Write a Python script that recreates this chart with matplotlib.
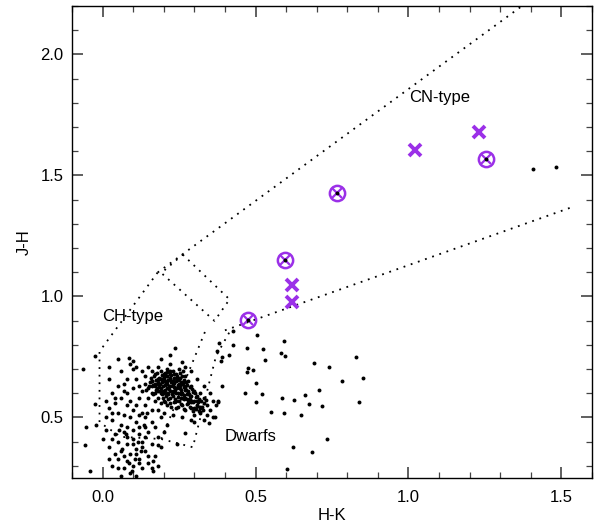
import numpy as np
import matplotlib
matplotlib.use('Agg')
import matplotlib.pyplot as plt
from matplotlib.ticker import MultipleLocator

plt.rcParams['font.family'] = ['Liberation Sans', 'DejaVu Sans']

# === Data ===
# dense clump of field stars
clump_x = [0.20, 0.21, 0.22, 0.23, 0.19, 0.24, 0.25, 0.22, 0.21, 0.18, 0.26, 0.27, 0.23, 0.20, 0.24, 0.19, 0.17, 0.25, 0.28, 0.22,
           0.21, 0.23, 0.26, 0.18, 0.20, 0.27, 0.29, 0.24, 0.22, 0.25, 0.30, 0.28, 0.26, 0.31, 0.29, 0.27, 0.32, 0.30, 0.33, 0.31,
           0.16, 0.15, 0.17, 0.19, 0.21, 0.23, 0.16, 0.14, 0.18, 0.20, 0.22, 0.24, 0.21, 0.19, 0.17, 0.15, 0.13, 0.12, 0.14, 0.16,
           0.25, 0.27, 0.28, 0.29, 0.30, 0.32, 0.33, 0.34, 0.35, 0.34,
           0.205, 0.215, 0.225, 0.235, 0.245, 0.255, 0.265, 0.195, 0.185, 0.175,
           0.205, 0.215, 0.235, 0.245, 0.255, 0.265, 0.275, 0.285, 0.295, 0.275,
           0.225, 0.235, 0.245, 0.255, 0.265, 0.275, 0.285, 0.295, 0.305, 0.315,
           0.185, 0.195, 0.205, 0.175, 0.165, 0.155, 0.165, 0.195, 0.215, 0.235,
           0.255, 0.285, 0.305, 0.325, 0.315, 0.295, 0.245, 0.225, 0.205, 0.265,
           0.21, 0.23, 0.25, 0.26, 0.24, 0.22, 0.20, 0.19, 0.28, 0.27,
           0.29, 0.31, 0.32, 0.26, 0.24, 0.23, 0.21, 0.18, 0.17, 0.16,
           0.13, 0.11, 0.10, 0.12, 0.11, 0.14, 0.13, 0.16, 0.18, 0.20, 0.23, 0.26, 0.29, 0.36, 0.37,
           0.36, 0.33, 0.30, 0.27, 0.29, 0.31, 0.33, 0.35, 0.26, 0.22, 0.18, 0.15, 0.10, 0.08, 0.07,
           0.198, 0.208, 0.218, 0.228, 0.238, 0.248, 0.258, 0.268, 0.188, 0.178,
           0.192, 0.202, 0.212, 0.222, 0.232, 0.242, 0.252, 0.262, 0.272, 0.282,
           0.196, 0.206, 0.216, 0.226, 0.236, 0.246, 0.256, 0.266, 0.276, 0.286,
           0.182, 0.172, 0.162, 0.152, 0.142, 0.168, 0.178, 0.188, 0.198, 0.158,
           0.212, 0.222, 0.232, 0.242, 0.252, 0.262, 0.272, 0.292, 0.302, 0.312,
           0.322, 0.308, 0.298, 0.288, 0.278, 0.318, 0.328, 0.338, 0.252, 0.262]
clump_y = [0.65, 0.64, 0.66, 0.63, 0.62, 0.65, 0.62, 0.61, 0.67, 0.64, 0.60, 0.63, 0.59, 0.60, 0.68, 0.66, 0.63, 0.66, 0.61, 0.63,
           0.62, 0.65, 0.64, 0.61, 0.68, 0.58, 0.59, 0.60, 0.58, 0.57, 0.57, 0.56, 0.55, 0.55, 0.54, 0.53, 0.52, 0.51, 0.56, 0.59,
           0.65, 0.62, 0.68, 0.69, 0.70, 0.69, 0.60, 0.64, 0.58, 0.57, 0.56, 0.54, 0.55, 0.56, 0.57, 0.58, 0.61, 0.63, 0.67, 0.69,
           0.70, 0.67, 0.65, 0.63, 0.61, 0.60, 0.58, 0.55, 0.53, 0.51,
           0.635, 0.655, 0.645, 0.625, 0.635, 0.615, 0.625, 0.645, 0.625, 0.655,
           0.615, 0.595, 0.605, 0.585, 0.595, 0.575, 0.595, 0.575, 0.565, 0.555,
           0.675, 0.665, 0.655, 0.645, 0.655, 0.635, 0.625, 0.605, 0.585, 0.575,
           0.665, 0.675, 0.685, 0.615, 0.635, 0.645, 0.595, 0.595, 0.575, 0.565,
           0.555, 0.545, 0.535, 0.545, 0.525, 0.525, 0.545, 0.545, 0.565, 0.535,
           0.60, 0.61, 0.64, 0.67, 0.62, 0.68, 0.66, 0.60, 0.60, 0.62,
           0.57, 0.57, 0.54, 0.58, 0.57, 0.64, 0.65, 0.66, 0.60, 0.63,
           0.69, 0.66, 0.62, 0.58, 0.55, 0.55, 0.52, 0.53, 0.53, 0.52, 0.51, 0.50, 0.49, 0.57, 0.55,
           0.50, 0.49, 0.48, 0.71, 0.69, 0.66, 0.63, 0.60, 0.73, 0.72, 0.71, 0.71, 0.70, 0.66, 0.61,
           0.628, 0.642, 0.618, 0.652, 0.612, 0.628, 0.602, 0.612, 0.638, 0.622,
           0.658, 0.668, 0.672, 0.662, 0.642, 0.662, 0.632, 0.642, 0.612, 0.598,
           0.608, 0.588, 0.628, 0.598, 0.578, 0.602, 0.582, 0.592, 0.578, 0.588,
           0.648, 0.638, 0.652, 0.632, 0.612, 0.672, 0.682, 0.608, 0.582, 0.662,
           0.688, 0.692, 0.678, 0.672, 0.662, 0.648, 0.648, 0.618, 0.602, 0.562,
           0.568, 0.548, 0.538, 0.562, 0.572, 0.542, 0.532, 0.572, 0.682, 0.692]

# diffuse blue tail towards the lower left
tail_x = [0.02, 0.05, 0.08, 0.03, 0.06, 0.09, 0.11, 0.01, 0.04, 0.07, 0.10, 0.12, 0.14, 0.16, 0.15, 0.13, 0.10, 0.08, 0.05, 0.02,
          0.06, 0.09, 0.11, 0.14, 0.16, 0.12, 0.08, 0.05, 0.03, 0.07, 0.10, 0.13, 0.15, 0.17, 0.09, 0.06, 0.11, 0.04, 0.00, -0.02,
          0.12, 0.14, 0.17, 0.18, 0.19, 0.07, 0.04, 0.10, 0.06, 0.09, 0.11, 0.13, 0.08, 0.03, 0.15, 0.12, 0.07, 0.10, 0.14, 0.16,
          0.18, 0.20, 0.21, 0.19, 0.05, 0.02, 0.08, 0.12, 0.03, 0.01,
          0.03, 0.05, 0.02, 0.06, 0.09, 0.04, 0.07, 0.01, 0.08, 0.11, 0.05, 0.02,
          0.085, 0.095, 0.105, 0.115, 0.125, 0.065, 0.075, 0.135, 0.145, 0.055]
tail_y = [0.54, 0.52, 0.55, 0.49, 0.47, 0.50, 0.48, 0.45, 0.43, 0.44, 0.45, 0.43, 0.46, 0.48, 0.44, 0.40, 0.41, 0.39, 0.40, 0.38,
          0.36, 0.35, 0.37, 0.36, 0.39, 0.33, 0.32, 0.33, 0.30, 0.29, 0.30, 0.29, 0.31, 0.34, 0.27, 0.26, 0.26, 0.35, 0.41, 0.47,
          0.51, 0.50, 0.46, 0.42, 0.38, 0.51, 0.56, 0.53, 0.58, 0.57, 0.35, 0.38, 0.42, 0.41, 0.34, 0.31, 0.34, 0.39, 0.42, 0.29,
          0.30, 0.44, 0.47, 0.50, 0.29, 0.33, 0.46, 0.46, 0.52, 0.50,
          0.60, 0.63, 0.66, 0.69, 0.72, 0.58, 0.64, 0.57, 0.60, 0.71, 0.74, 0.71,
          0.31, 0.28, 0.33, 0.40, 0.36, 0.37, 0.43, 0.47, 0.52, 0.45]

# scattered red / dwarf-like field stars
field_x = [0.506, 0.592, 0.472, 0.526, 0.584, 0.595, 0.530, 0.829, 0.691, 0.741, 0.477, 0.491, 0.472, 0.851, 0.783, 0.502,
           0.389, 0.708, 0.466, 0.522, 0.661, 0.586, 0.626, 0.501, 0.378, 0.676, 0.838, 0.717, 0.552, 0.592, 0.649, 0.734,
           0.622, 0.684, 0.604, 0.428, 0.413, 0.388, 0.382, 0.373, 0.426, 0.391, 0.377, 0.366, 0.347, 0.270, 0.180, 0.243,
           0.164, 0.164, -0.024, -0.064, -0.026, -0.053, -0.057, -0.040, 0.086, 0.101, 0.192, 0.219, 0.236, 1.408, 1.484]
field_y = [0.839, 0.815, 0.789, 0.782, 0.765, 0.754, 0.739, 0.750, 0.724, 0.709, 0.706, 0.698, 0.688, 0.663, 0.650, 0.642,
           0.631, 0.614, 0.600, 0.595, 0.591, 0.580, 0.573, 0.566, 0.569, 0.556, 0.562, 0.546, 0.522, 0.518, 0.511, 0.411,
           0.377, 0.357, 0.287, 0.799, 0.757, 0.733, 0.809, 0.775, 0.857, 0.750, 0.564, 0.504, 0.477, 0.434, 0.387, 0.390,
           0.321, 0.280, 0.756, 0.699, 0.555, 0.461, 0.387, 0.278, 0.745, 0.732, 0.743, 0.757, 0.786, 1.527, 1.536]

# carbon star candidates
circ_x = [0.474, 0.598, 0.768, 1.252]
circ_y = [0.901, 1.152, 1.429, 1.569]
cross_x = [0.618, 0.618, 1.020, 1.232]
cross_y = [1.049, 0.979, 1.606, 1.680]

# region boundaries (H-K, J-H)
cn_upper = ([0.180, 1.371], [1.099, 2.200])
cn_lower = ([0.400, 1.539], [0.860, 1.371])
giant_box = ([0.262, 0.415, 0.366, 0.192, 0.262], [1.173, 0.988, 0.899, 1.097, 1.173])
ch_region = ([0.180, -0.010, -0.010, 0.060, 0.192], [1.099, 0.773, 0.480, 0.420, 0.411])
dwarf_region = ([0.192, 0.295, 0.371, 0.415], [0.411, 0.377, 0.754, 0.853])
dwarf_left = ([0.192, 0.340], [0.411, 0.870])

purple = '#9B30E8'

# === Plot ===
fig = plt.figure(figsize=(5.94, 5.27), dpi=100)
ax = fig.add_axes([0.1212, 0.093, 0.8754, 0.8956])

dot = dict(color='black', linestyle=(0, (1, 3.2)), linewidth=1.3)
for xs, ys in [cn_upper, cn_lower, giant_box, ch_region, dwarf_region, dwarf_left]:
    ax.plot(xs, ys, **dot)

for xs, ys in [(clump_x, clump_y), (tail_x, tail_y), (field_x, field_y)]:
    ax.scatter(xs, ys, s=8, color='black', linewidths=0, zorder=3)
ax.scatter(circ_x, circ_y, s=8, color='black', linewidths=0, zorder=5)

ax.plot(circ_x, circ_y, 'o', ms=11, mfc='none', mec=purple, mew=1.8, ls='none', zorder=4)
ax.plot(circ_x, circ_y, 'x', ms=7, mec=purple, mew=1.6, ls='none', zorder=4)
ax.plot(cross_x, cross_y, 'x', ms=8, mec=purple, mew=2.8, ls='none', zorder=4)

ax.text(1.003, 1.824, 'CN-type', fontsize=12, va='center', ha='left')
ax.text(0.0, 0.918, 'CH-type', fontsize=12, va='center', ha='left')
ax.text(0.399, 0.423, 'Dwarfs', fontsize=12, va='center', ha='left')

ax.set_xlim(-0.1, 1.6)
ax.set_ylim(0.25, 2.2)
ax.xaxis.set_major_locator(MultipleLocator(0.5))
ax.xaxis.set_minor_locator(MultipleLocator(0.1))
ax.yaxis.set_major_locator(MultipleLocator(0.5))
ax.yaxis.set_minor_locator(MultipleLocator(0.1))
ax.tick_params(which='both', direction='in', top=True, right=True, color='#444444', labelsize=12)
ax.tick_params(which='major', length=8, width=1.2)
ax.tick_params(which='minor', length=4, width=0.9)
ax.tick_params(axis='x', pad=9)
ax.tick_params(axis='y', pad=6)
for s in ax.spines.values():
    s.set_linewidth(1.0)

ax.set_xlabel('H-K', fontsize=12, labelpad=2)
ax.set_ylabel('J-H', fontsize=12, labelpad=6)

fig.savefig('out.png', dpi=100)
